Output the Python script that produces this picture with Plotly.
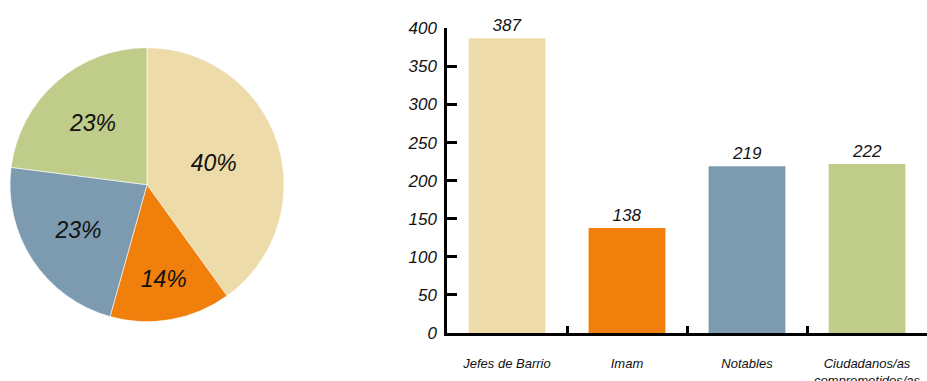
import plotly.graph_objects as go

# Data
categories = ["Jefes de Barrio", "Imam", "Notables", "Ciudadanos/as<br>comprometidos/as"]
counts = [387, 138, 219, 222]
colors = ["#EDDBAA", "#F0800B", "#7D9BB0", "#BFCC8A"]
y_ticks = [0, 50, 100, 150, 200, 250, 300, 350, 400]

W, H = 927, 381
FONT = "Liberation Sans"

fig = go.Figure()

# Share of each group
fig.add_trace(go.Pie(
    labels=categories,
    values=counts,
    marker=dict(colors=colors, line=dict(color="white", width=0.6)),
    sort=False,
    direction="clockwise",
    rotation=0,
    textinfo="percent",
    texttemplate="%{percent:.0%}",
    textposition="inside",
    insidetextorientation="horizontal",
    textfont=dict(family=FONT, size=23, color="#111111", style="italic"),
    domain=dict(x=[10 / W, 284 / W], y=[(H - 321.7) / H, (H - 47.7) / H]),
    showlegend=False,
    hoverinfo="label+value+percent",
))

# Counts per group
fig.add_trace(go.Bar(
    x=categories,
    y=counts,
    marker=dict(color=colors, line=dict(width=0)),
    width=0.64,
    text=counts,
    texttemplate="%{y}",
    textposition="outside",
    textfont=dict(family=FONT, size=17, color="#111111", style="italic"),
    cliponaxis=False,
    showlegend=False,
    xaxis="x",
    yaxis="y",
))

fig.update_layout(
    width=W,
    height=H,
    margin=dict(l=0, r=0, t=0, b=0, autoexpand=False),
    paper_bgcolor="white",
    plot_bgcolor="white",
    font=dict(family=FONT, color="#111111"),
    xaxis=dict(
        domain=[447 / W, 1.0],
        type="category",
        automargin=False,
        showline=True,
        linecolor="black",
        linewidth=2.5,
        ticks="inside",
        tickson="boundaries",
        ticklen=7,
        tickwidth=2.5,
        tickcolor="black",
        showgrid=False,
        zeroline=False,
        tickfont=dict(family=FONT, size=13, color="#111111", style="italic"),
        ticklabelstandoff=17,
        fixedrange=True,
    ),
    yaxis=dict(
        domain=[(H - 333) / H, (H - 28.3) / H],
        range=[0, 400],
        tickvals=y_ticks,
        automargin=False,
        showline=True,
        linecolor="black",
        linewidth=2.5,
        ticks="inside",
        ticklen=10,
        tickwidth=2.5,
        tickcolor="black",
        showgrid=False,
        zeroline=False,
        tickfont=dict(family=FONT, size=17, color="#111111", style="italic"),
        ticklabelstandoff=4,
        fixedrange=True,
    ),
    bargap=0.36,
)

fig.write_html("out.html")
